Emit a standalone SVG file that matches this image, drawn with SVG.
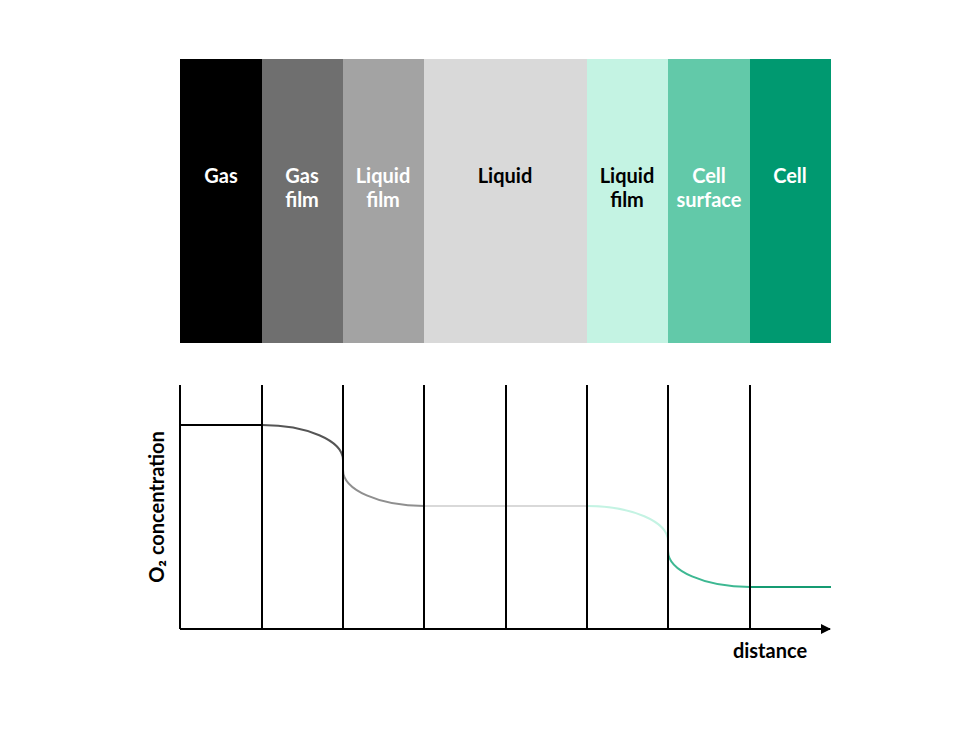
<svg xmlns="http://www.w3.org/2000/svg" width="980" height="735" viewBox="0 0 980 735">
<defs>
<style>
.lbl{font-family:Lato,"Liberation Sans",sans-serif;font-size:20px;font-weight:700;text-anchor:middle}
.w{fill:#fff}
.k{fill:#000}
.grid{stroke:#000;stroke-width:2;fill:none}
.crv{stroke-width:2;fill:none}
.ax{font-family:Lato,"Liberation Sans",sans-serif;font-size:20px;font-weight:700;fill:#000}
</style>
<marker id="arr" viewBox="0 0 10 10" refX="9" refY="5" markerWidth="5" markerHeight="5" orient="auto" markerUnits="strokeWidth">
<path d="M0,0 L10,5 L0,10 z" fill="#000"/>
</marker>
</defs>
<rect width="980" height="735" fill="#fff"/>
<g id="band-gas"><rect x="180" y="59" width="82" height="284" fill="#000"/><text class="lbl w" x="221" y="183">Gas</text></g>
<g id="band-gasfilm"><rect x="262" y="59" width="81" height="284" fill="#6f6f6f"/><text class="lbl w" x="302" y="183">Gas</text><text class="lbl w" x="302" y="207">film</text></g>
<g id="band-liqfilm1"><rect x="343" y="59" width="81" height="284" fill="#a3a3a3"/><text class="lbl w" x="383" y="183">Liquid</text><text class="lbl w" x="383" y="207">film</text></g>
<g id="band-liquid"><rect x="424" y="59" width="163" height="284" fill="#d9d9d9"/><text class="lbl k" x="505" y="183">Liquid</text></g>
<g id="band-liqfilm2"><rect x="587" y="59" width="81" height="284" fill="#c4f3e3"/><text class="lbl k" x="627" y="183">Liquid</text><text class="lbl k" x="627" y="207">film</text></g>
<g id="band-cellsurface"><rect x="668" y="59" width="82" height="284" fill="#62c9a9"/><text class="lbl w" x="709" y="183">Cell</text><text class="lbl w" x="709" y="207">surface</text></g>
<g id="band-cell"><rect x="750" y="59" width="81" height="284" fill="#009970"/><text class="lbl w" x="790" y="183">Cell</text></g>

<g id="curve">
<path class="crv" stroke="#000" d="M180,425 H262"/>
<path class="crv" stroke="#555" d="M262,425 A81,35 0 0 1 343,460 V470"/>
<path class="crv" stroke="#8f8f8f" d="M343,470 A81,36 0 0 0 424,506"/>
<path class="crv" stroke="#d9d9d9" d="M424,506 H587"/>
<path class="crv" stroke="#c4f3e3" d="M587,506 A81,35 0 0 1 668,541 V551"/>
<path class="crv" stroke="#3db892" d="M668,551 A82,36 0 0 0 750,587"/>
<path class="crv" stroke="#159b72" d="M750,587 H831"/>
</g>

<g id="connectors">
<path class="grid" d="M180,385 V629 M262,385 V629 M343,385 V629 M424,385 V629 M506,385 V629 M587,385 V629 M668,385 V629 M750,385 V629"/>
<path class="grid" d="M180,629 H830" marker-end="url(#arr)"/>
</g>

<g id="axis-labels">
<text class="ax" x="770" y="658" text-anchor="middle">distance</text>
<text class="ax" transform="translate(164,507) rotate(-90)" text-anchor="middle">O₂ concentration</text>
</g>
</svg>
